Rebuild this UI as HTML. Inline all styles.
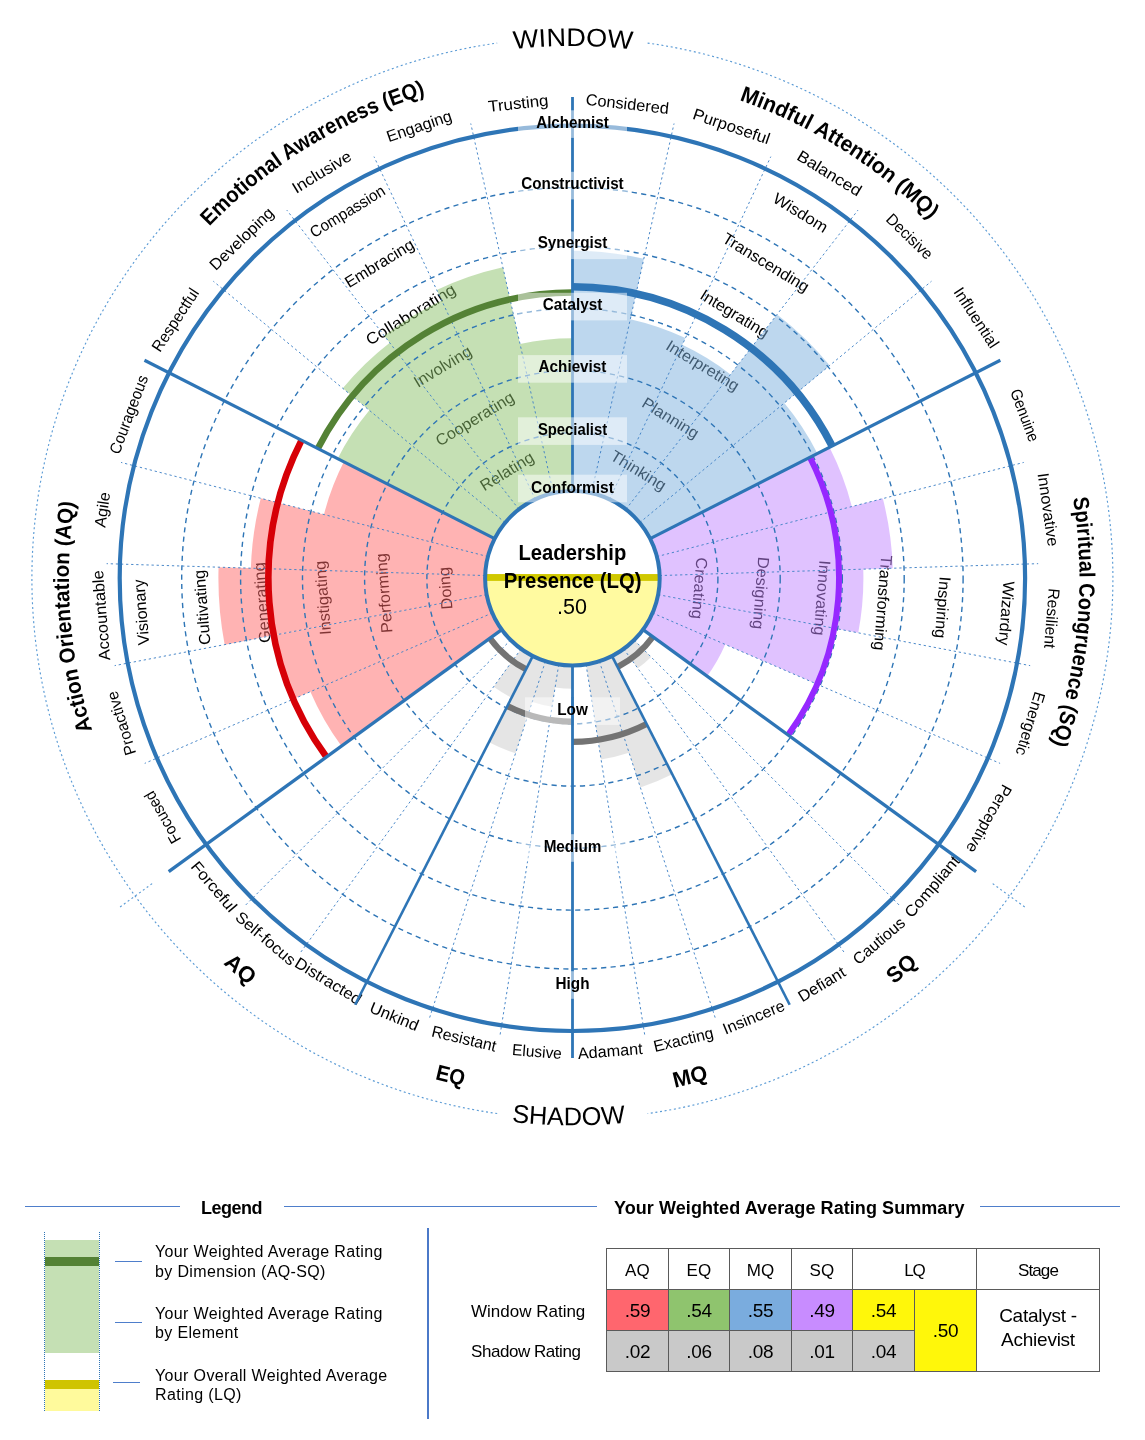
<!DOCTYPE html>
<html lang="en"><head><meta charset="utf-8"><title>Leadership Presence (LQ) Report</title>
<style>
html,body{margin:0;padding:0;background:#fff}
body{width:1145px;height:1440px;position:relative;overflow:hidden;font-family:"Liberation Sans", sans-serif;color:#000}
.abs{position:absolute;white-space:nowrap}
.hl{position:absolute;height:0;border-top:1px solid #4e7ecb}
.lt{position:absolute;left:155px;font-size:16px;line-height:19.7px;white-space:nowrap;letter-spacing:0.36px}
table{position:absolute;left:606px;top:1248px;border-collapse:collapse;font-size:19px;table-layout:fixed;width:493px}
td{border:1px solid #5a5a5a;text-align:center;padding:2px 0 0 0;box-sizing:border-box;letter-spacing:-0.25px}
tr.h td{font-size:17px;padding-top:3px;letter-spacing:0.1px}
</style></head><body>
<svg width="1145" height="1440" viewBox="0 0 1145 1440" style="position:absolute;left:0;top:0;font-family:'Liberation Sans', sans-serif">
<rect width="1145" height="1440" fill="#fff"/>
<g fill="none" stroke="#5b9bd5" stroke-width="1.15" stroke-dasharray="2 2.7">
<path d="M647.62 43.06A540.5 540.5 0 0 1 647.62 1113.54"/>
<path d="M497.18 1113.54A540.5 540.5 0 0 1 497.18 43.06"/>
<path d="M992.68 883.65L1025.45 907.46"/>
<path d="M152.12 883.65L119.35 907.46"/>
</g>
<text font-size="16" text-anchor="middle" textLength="42.64" lengthAdjust="spacingAndGlyphs" transform="translate(450.78 587.87) rotate(-94.5)">Doing</text>
<text font-size="16" text-anchor="middle" textLength="79.82" lengthAdjust="spacingAndGlyphs" transform="translate(389.47 592.7) rotate(-94.5)">Performing</text>
<text font-size="16" text-anchor="middle" textLength="74.4" lengthAdjust="spacingAndGlyphs" transform="translate(328.16 597.52) rotate(-94.5)">Instigating</text>
<text font-size="16" text-anchor="middle" textLength="80.75" lengthAdjust="spacingAndGlyphs" transform="translate(267.34 602.31) rotate(-94.5)">Generating</text>
<text font-size="16" text-anchor="middle" textLength="75.2" lengthAdjust="spacingAndGlyphs" transform="translate(207.53 607.02) rotate(-94.5)">Cultivating</text>
<text font-size="16" text-anchor="middle" textLength="66" lengthAdjust="spacingAndGlyphs" transform="translate(146.72 611.8) rotate(-94.5)">Visionary</text>
<text font-size="16" text-anchor="middle" textLength="59.88" lengthAdjust="spacingAndGlyphs" transform="translate(509.7 475.98) rotate(-31.5)">Relating</text>
<text font-size="16" text-anchor="middle" textLength="88.92" lengthAdjust="spacingAndGlyphs" transform="translate(477.57 423.55) rotate(-31.5)">Cooperating</text>
<text font-size="16" text-anchor="middle" textLength="64.41" lengthAdjust="spacingAndGlyphs" transform="translate(445.43 371.11) rotate(-31.5)">Involving</text>
<text font-size="16" text-anchor="middle" textLength="102" lengthAdjust="spacingAndGlyphs" transform="translate(413.56 319.1) rotate(-31.5)">Collaborating</text>
<text font-size="16" text-anchor="middle" textLength="78.01" lengthAdjust="spacingAndGlyphs" transform="translate(382.21 267.94) rotate(-31.5)">Embracing</text>
<text font-size="16" text-anchor="middle" textLength="85" lengthAdjust="spacingAndGlyphs" transform="translate(350.34 215.93) rotate(-31.5)">Compassion</text>
<text font-size="16" text-anchor="middle" textLength="61.69" lengthAdjust="spacingAndGlyphs" transform="translate(635.62 475.13) rotate(31.5)">Thinking</text>
<text font-size="16" text-anchor="middle" textLength="63.52" lengthAdjust="spacingAndGlyphs" transform="translate(667.76 422.69) rotate(31.5)">Planning</text>
<text font-size="16" text-anchor="middle" textLength="82.56" lengthAdjust="spacingAndGlyphs" transform="translate(699.89 370.26) rotate(31.5)">Interpreting</text>
<text font-size="16" text-anchor="middle" textLength="77.12" lengthAdjust="spacingAndGlyphs" transform="translate(731.76 318.24) rotate(31.5)">Integrating</text>
<text font-size="16" text-anchor="middle" textLength="98.28" lengthAdjust="spacingAndGlyphs" transform="translate(763.11 267.09) rotate(31.5)">Transcending</text>
<text font-size="16" text-anchor="middle" textLength="60.8" lengthAdjust="spacingAndGlyphs" transform="translate(797.71 217.33) rotate(31.5)">Wisdom</text>
<text font-size="16" text-anchor="middle" textLength="61.69" lengthAdjust="spacingAndGlyphs" transform="translate(694.02 587.87) rotate(94.5)">Creating</text>
<text font-size="16" text-anchor="middle" textLength="72.58" lengthAdjust="spacingAndGlyphs" transform="translate(755.33 592.7) rotate(94.5)">Designing</text>
<text font-size="16" text-anchor="middle" textLength="75.31" lengthAdjust="spacingAndGlyphs" transform="translate(816.64 597.52) rotate(94.5)">Innovating</text>
<text font-size="16" text-anchor="middle" textLength="95.53" lengthAdjust="spacingAndGlyphs" transform="translate(877.46 602.31) rotate(94.5)">Transforming</text>
<text font-size="16" text-anchor="middle" textLength="61.69" lengthAdjust="spacingAndGlyphs" transform="translate(937.27 607.02) rotate(94.5)">Inspiring</text>
<text font-size="16" text-anchor="middle" textLength="64.6" lengthAdjust="spacingAndGlyphs" transform="translate(1001.01 612.83) rotate(94.5)">Wizardry</text>
<text font-size="16" text-anchor="middle" textLength="57.2" lengthAdjust="spacingAndGlyphs" transform="translate(167.24 814.58) rotate(-119.7)">Focused</text>
<text font-size="16" text-anchor="middle" textLength="66.2" lengthAdjust="spacingAndGlyphs" transform="translate(126.57 721.73) rotate(-107.1)">Proactive</text>
<text font-size="16" text-anchor="middle" textLength="90.3" lengthAdjust="spacingAndGlyphs" transform="translate(106.64 614.96) rotate(-94.5)">Accountable</text>
<text font-size="16" text-anchor="middle" textLength="35.4" lengthAdjust="spacingAndGlyphs" transform="translate(107.81 510.56) rotate(-81.9)">Agile</text>
<text font-size="16" text-anchor="middle" textLength="82.8" lengthAdjust="spacingAndGlyphs" transform="translate(133.81 416.42) rotate(-69.3)">Courageous</text>
<text font-size="16" text-anchor="middle" textLength="72.1" lengthAdjust="spacingAndGlyphs" transform="translate(179.89 322.86) rotate(-56.7)">Respectful</text>
<text font-size="16" text-anchor="middle" textLength="82.2" lengthAdjust="spacingAndGlyphs" transform="translate(245.36 242.69) rotate(-44.1)">Developing</text>
<text font-size="16" text-anchor="middle" textLength="66.4" lengthAdjust="spacingAndGlyphs" transform="translate(324.5 176.64) rotate(-31.5)">Inclusive</text>
<text font-size="16" text-anchor="middle" textLength="67.8" lengthAdjust="spacingAndGlyphs" transform="translate(420.84 131.29) rotate(-18.9)">Engaging</text>
<text font-size="16" text-anchor="middle" textLength="60.6" lengthAdjust="spacingAndGlyphs" transform="translate(518.85 108.74) rotate(-6.3)">Trusting</text>
<text font-size="16" text-anchor="middle" textLength="83.6" lengthAdjust="spacingAndGlyphs" transform="translate(626.69 109.33) rotate(6.3)">Considered</text>
<text font-size="16" text-anchor="middle" textLength="80.3" lengthAdjust="spacingAndGlyphs" transform="translate(729.81 131.5) rotate(18.9)">Purposeful</text>
<text font-size="16" text-anchor="middle" textLength="72.2" lengthAdjust="spacingAndGlyphs" transform="translate(826.56 177.9) rotate(31.5)">Balanced</text>
<text font-size="16" text-anchor="middle" textLength="57.8" lengthAdjust="spacingAndGlyphs" transform="translate(905.84 240.4) rotate(44.1)">Decisive</text>
<text font-size="16" text-anchor="middle" textLength="68.9" lengthAdjust="spacingAndGlyphs" transform="translate(971.8 320.61) rotate(56.7)">Influential</text>
<text font-size="16" text-anchor="middle" textLength="55.1" lengthAdjust="spacingAndGlyphs" transform="translate(1019.73 417.18) rotate(69.3)">Genuine</text>
<text font-size="16" text-anchor="middle" textLength="74.2" lengthAdjust="spacingAndGlyphs" transform="translate(1042.72 510.35) rotate(81.9)">Innovative</text>
<text font-size="16" text-anchor="middle" textLength="60.2" lengthAdjust="spacingAndGlyphs" transform="translate(1046.45 617.92) rotate(94.5)">Resilient</text>
<text font-size="16" text-anchor="middle" textLength="65.7" lengthAdjust="spacingAndGlyphs" transform="translate(1025.23 722.11) rotate(107.1)">Energetic</text>
<text font-size="16" text-anchor="middle" textLength="75.6" lengthAdjust="spacingAndGlyphs" transform="translate(984.37 816.16) rotate(119.7)">Perceptive</text>
<text font-size="16" text-anchor="middle" textLength="75.4" lengthAdjust="spacingAndGlyphs" transform="translate(936.2 890.2) rotate(310.5)">Compliant</text>
<text font-size="16" text-anchor="middle" textLength="63.1" lengthAdjust="spacingAndGlyphs" transform="translate(882.38 944.93) rotate(319.5)">Cautious</text>
<text font-size="16" text-anchor="middle" textLength="52.4" lengthAdjust="spacingAndGlyphs" transform="translate(824.48 988.89) rotate(328.5)">Defiant</text>
<text font-size="16" text-anchor="middle" textLength="65.3" lengthAdjust="spacingAndGlyphs" transform="translate(755.74 1022.23) rotate(337.5)">Insincere</text>
<text font-size="16" text-anchor="middle" textLength="61.1" lengthAdjust="spacingAndGlyphs" transform="translate(684.72 1044.87) rotate(346.5)">Exacting</text>
<text font-size="16" text-anchor="middle" textLength="64.9" lengthAdjust="spacingAndGlyphs" transform="translate(610.54 1056.48) rotate(355.5)">Adamant</text>
<text font-size="16" text-anchor="middle" textLength="49.7" lengthAdjust="spacingAndGlyphs" transform="translate(536.63 1057.07) rotate(364.5)">Elusive</text>
<text font-size="16" text-anchor="middle" textLength="66" lengthAdjust="spacingAndGlyphs" transform="translate(462.76 1043.97) rotate(373.5)">Resistant</text>
<text font-size="16" text-anchor="middle" textLength="51.5" lengthAdjust="spacingAndGlyphs" transform="translate(392.28 1021.51) rotate(382.5)">Unkind</text>
<text font-size="16" text-anchor="middle" textLength="75.1" lengthAdjust="spacingAndGlyphs" transform="translate(325.5 985.61) rotate(391.5)">Distracted</text>
<text font-size="16" text-anchor="middle" textLength="73.5" lengthAdjust="spacingAndGlyphs" transform="translate(262.1 942.54) rotate(400.5)">Self-focus</text>
<text font-size="16" text-anchor="middle" textLength="61.1" lengthAdjust="spacingAndGlyphs" transform="translate(209.8 890.22) rotate(409.5)">Forceful</text>
<path id="pa" d="M133.85 825.66A503.5 503.5 0 0 1 101.02 401.35" fill="none"/>
<text font-size="22" font-weight="bold" text-anchor="middle" textLength="230.68" lengthAdjust="spacingAndGlyphs"><textPath href="#pa" startOffset="50%">Action Orientation (AQ)</textPath></text>
<path id="pe" d="M151.36 298.56A505.5 505.5 0 0 1 516.05 75.95" fill="none"/>
<text font-size="22" font-weight="bold" text-anchor="middle" textLength="255.86" lengthAdjust="spacingAndGlyphs"><textPath href="#pe" startOffset="50%">Emotional Awareness (EQ)</textPath></text>
<path id="pm" d="M634.92 75.67A506.5 506.5 0 0 1 997.62 303.11" fill="none"/>
<text font-size="22" font-weight="bold" text-anchor="middle" textLength="227.19" lengthAdjust="spacingAndGlyphs"><textPath href="#pm" startOffset="50%">Mindful Attention (MQ)</textPath></text>
<path id="pq" d="M1048.78 404.77A507 507 0 0 1 1011.54 831.69" fill="none"/>
<text font-size="22" font-weight="bold" text-anchor="middle" textLength="249.27" lengthAdjust="spacingAndGlyphs"><textPath href="#pq" startOffset="50%">Spiritual Congruence (SQ)</textPath></text>
<text font-size="22" text-anchor="middle" font-weight="bold" textLength="31.7" lengthAdjust="spacingAndGlyphs" transform="translate(906.11 974.11) rotate(319.5)">SQ</text>
<text font-size="22" text-anchor="middle" font-weight="bold" textLength="35" lengthAdjust="spacingAndGlyphs" transform="translate(691.68 1083.72) rotate(346.5)">MQ</text>
<text font-size="22" text-anchor="middle" font-weight="bold" textLength="29.2" lengthAdjust="spacingAndGlyphs" transform="translate(448.86 1082.59) rotate(373.5)">EQ</text>
<text font-size="22" text-anchor="middle" font-weight="bold" textLength="33.5" lengthAdjust="spacingAndGlyphs" transform="translate(235.75 974.62) rotate(400.5)">AQ</text>
<path id="pw" d="M390.34 78.1A532.3 532.3 0 0 1 754.46 78.1" fill="none"/>
<path id="ps" d="M385.31 1092.31A547 547 0 0 0 759.49 1092.31" fill="none"/>
<text font-size="25.5" text-anchor="middle" textLength="118.8" lengthAdjust="spacingAndGlyphs"><textPath href="#pw" startOffset="50.15%">WINDOW</textPath></text>
<text font-size="25.5" text-anchor="middle" textLength="114" lengthAdjust="spacingAndGlyphs"><textPath href="#ps" startOffset="49%">SHADOW</textPath></text>
<path d="M501.77 629.61L341.43 746.11A285.5 285.5 0 0 1 310.38 691.69L492.28 612.97A87.3 87.3 0 0 0 501.77 629.61ZM492.28 612.97L295.24 698.24A302 302 0 0 1 275.75 634.89L486.65 594.66A87.3 87.3 0 0 0 492.28 612.97ZM486.65 594.66L224.67 644.63A354 354 0 0 1 218.57 567.18L485.14 575.56A87.3 87.3 0 0 0 486.65 594.66ZM485.14 575.56L250.86 568.2A321.7 321.7 0 0 1 260.81 498.3L487.84 556.59A87.3 87.3 0 0 0 485.14 575.56ZM487.84 556.59L323.96 514.51A256.5 256.5 0 0 1 343.86 461.85L494.62 538.67A87.3 87.3 0 0 0 487.84 556.59Z" fill="#ff6767" fill-opacity="0.5"/>
<path d="M494.62 538.67L337.62 458.67A263.5 263.5 0 0 1 369.37 410.34L505.13 522.65A87.3 87.3 0 0 0 494.62 538.67ZM505.13 522.65L342.79 388.35A298 298 0 0 1 389.75 342.83L518.89 509.32A87.3 87.3 0 0 0 505.13 522.65ZM518.89 509.32L384.24 335.72A307 307 0 0 1 441.69 300.52L535.23 499.31A87.3 87.3 0 0 0 518.89 509.32ZM535.23 499.31L436.7 289.93A318.7 318.7 0 0 1 502.88 267.28L553.36 493.1A87.3 87.3 0 0 0 535.23 499.31ZM553.36 493.1L520.05 344.08A240 240 0 0 1 572.4 338.3L572.4 491A87.3 87.3 0 0 0 553.36 493.1Z" fill="#8bc169" fill-opacity="0.5"/>
<path d="M572.4 491L572.4 250.8A327.5 327.5 0 0 1 643.84 258.69L591.44 493.1A87.3 87.3 0 0 0 572.4 491ZM591.44 493.1L630.32 319.19A265.5 265.5 0 0 1 685.44 338.07L609.57 499.31A87.3 87.3 0 0 0 591.44 493.1ZM609.57 499.31L682.25 344.85A258 258 0 0 1 730.53 374.44L625.91 509.32A87.3 87.3 0 0 0 609.57 499.31ZM625.91 509.32L777.11 314.39A334 334 0 0 1 829.75 365.4L639.67 522.65A87.3 87.3 0 0 0 625.91 509.32ZM639.67 522.65L784.29 403.01A275 275 0 0 1 817.43 453.45L650.18 538.67A87.3 87.3 0 0 0 639.67 522.65Z" fill="#7bafdd" fill-opacity="0.5"/>
<path d="M650.18 538.67L829.46 447.32A288.5 288.5 0 0 1 851.84 506.55L656.96 556.59A87.3 87.3 0 0 0 650.18 538.67ZM656.96 556.59L882.83 498.59A320.5 320.5 0 0 1 892.74 568.23L659.66 575.56A87.3 87.3 0 0 0 656.96 556.59ZM659.66 575.56L863.26 569.16A291 291 0 0 1 858.25 632.83L658.15 594.66A87.3 87.3 0 0 0 659.66 575.56ZM658.15 594.66L832.71 627.96A265 265 0 0 1 815.6 683.54L652.52 612.97A87.3 87.3 0 0 0 658.15 594.66ZM652.52 612.97L725.21 644.43A166.5 166.5 0 0 1 707.1 676.17L643.03 629.61A87.3 87.3 0 0 0 652.52 612.97Z" fill="#c185ff" fill-opacity="0.5"/>
<path d="M634.13 640.03L651.1 657A111.3 111.3 0 0 1 637.82 668.34L623.71 648.93A87.3 87.3 0 0 0 634.13 640.03ZM623.71 648.93L631.18 659.2A100 100 0 0 1 617.8 667.4L612.03 656.08A87.3 87.3 0 0 0 623.71 648.93Z" fill="#000" fill-opacity="0.1"/>
<path d="M612.03 656.08L672.28 774.32A220 220 0 0 1 640.38 787.53L599.38 661.33A87.3 87.3 0 0 0 612.03 656.08ZM599.38 661.33L629.1 752.82A183.5 183.5 0 0 1 601.11 759.54L586.06 664.53A87.3 87.3 0 0 0 599.38 661.33Z" fill="#000" fill-opacity="0.1"/>
<path d="M572.4 665.6L572.4 688.8A110.5 110.5 0 0 1 555.11 687.44L558.74 664.53A87.3 87.3 0 0 0 572.4 665.6ZM558.74 664.53L552.06 706.7A130 130 0 0 1 532.23 701.94L545.42 661.33A87.3 87.3 0 0 0 558.74 664.53ZM545.42 661.33L515.54 753.29A184 184 0 0 1 488.87 742.25L532.77 656.08A87.3 87.3 0 0 0 545.42 661.33Z" fill="#000" fill-opacity="0.1"/>
<path d="M532.77 656.08L511.57 697.69A134 134 0 0 1 493.64 686.71L521.09 648.93A87.3 87.3 0 0 0 532.77 656.08Z" fill="#000" fill-opacity="0.1"/>
<g fill="none" stroke="#2e75b6" stroke-width="1.4" stroke-dasharray="5.2 4.3">
<circle cx="572.4" cy="578.3" r="145.5"/>
<circle cx="572.4" cy="578.3" r="207.8"/>
<circle cx="572.4" cy="578.3" r="269.9"/>
<circle cx="572.4" cy="578.3" r="331.8"/>
<circle cx="572.4" cy="578.3" r="390.7"/>
</g>
<g fill="none" stroke="#4283c6" stroke-width="0.95" stroke-dasharray="2.3 2.8">
<path d="M492.28 612.97L144.73 763.37M486.65 594.66L114.65 665.62M485.14 575.56L106.63 563.66M487.84 556.59L121.04 462.41M505.13 522.65L213.34 281.26M518.89 509.32L286.79 210.09M535.23 499.31L373.99 156.65M553.36 493.1L470.75 123.52M591.44 493.1L674.05 123.52M609.57 499.31L770.81 156.65M625.91 509.32L858.01 210.09M639.67 522.65L931.46 281.26M656.96 556.59L1023.76 462.41M659.66 575.56L1038.17 563.66M658.15 594.66L1030.15 665.62M652.52 612.97L1000.07 763.37M634.13 640.03L900.85 906.75M623.71 648.93L845.43 954.09M599.38 661.33L715.94 1020.07M586.06 664.53L645.06 1037.08M558.74 664.53L499.74 1037.08M545.42 661.33L428.86 1020.07M521.09 648.93L299.37 954.09M510.67 640.03L243.95 906.75"/>
</g>
<path d="M326.46 756.99A304 304 0 0 1 301.53 440.29" fill="none" stroke="#d60007" stroke-width="6.6"/>
<path d="M317.84 448.59A285.7 285.7 0 0 1 572.4 292.6" fill="none" stroke="#548235" stroke-width="6.5"/>
<path d="M572.4 286.8A291.5 291.5 0 0 1 832.13 445.96" fill="none" stroke="#2e75b6" stroke-width="7.5"/>
<path d="M809.94 457.27A266.6 266.6 0 0 1 788.08 735" fill="none" stroke="#9628ff" stroke-width="6"/>
<path d="M652.9 636.78A99.5 99.5 0 0 1 617.57 666.96" fill="none" stroke="#737373" stroke-width="6.2"/>
<path d="M646.63 723.98A163.5 163.5 0 0 1 572.4 741.8" fill="none" stroke="#737373" stroke-width="6.2"/>
<path d="M572.4 721.6A143.3 143.3 0 0 1 507.34 705.98" fill="none" stroke="#737373" stroke-width="6.2"/>
<path d="M526.09 669.18A102 102 0 0 1 489.88 638.25" fill="none" stroke="#737373" stroke-width="6.2"/>
<circle cx="572.4" cy="578.3" r="452.7" fill="none" stroke="#2e75b6" stroke-width="4.2"/>
<g fill="none" stroke="#2e75b6">
<path d="M501.77 629.61L168.7 871.6" stroke-width="3.3"/>
<path d="M494.62 538.67L144.45 360.25" stroke-width="3.1"/>
<path d="M650.18 538.67L1000.35 360.25" stroke-width="3.1"/>
<path d="M643.03 629.61L976.1 871.6" stroke-width="3.3"/>
<path d="M612.03 656.08L789.68 1004.74" stroke-width="2.6"/>
<path d="M532.77 656.08L355.12 1004.74" stroke-width="2.6"/>
<path d="M572.5 97V491 M572.5 665.6V1058" stroke-width="2.8"/>
</g>
<circle cx="572.4" cy="578.3" r="87.3" fill="#fff"/>
<path d="M485.1 578A87.3 87.3 0 0 0 659.7 578Z" fill="#fffaa0"/>
<rect x="485.4" y="574.05" width="174" height="6.85" fill="#d0c800"/>
<circle cx="572.4" cy="578.3" r="87.3" fill="none" stroke="#2e75b6" stroke-width="4"/>
<text x="572.4" y="559.6" font-size="22" font-weight="bold" text-anchor="middle" textLength="107.8" lengthAdjust="spacingAndGlyphs">Leadership</text>
<text x="572.6" y="588.4" font-size="22" font-weight="bold" text-anchor="middle" textLength="137.9" lengthAdjust="spacingAndGlyphs">Presence (LQ)</text>
<text x="572" y="614.3" font-size="22" text-anchor="middle" textLength="29.9" lengthAdjust="spacingAndGlyphs">.50</text>
<rect x="518" y="110.3" width="109" height="27.6" fill="#fff" fill-opacity="0.5"/>
<text x="572.5" y="127.6" font-size="16" font-weight="bold" text-anchor="middle" textLength="72.7" lengthAdjust="spacingAndGlyphs">Alchemist</text>
<rect x="518" y="171.8" width="109" height="27.6" fill="#fff" fill-opacity="0.5"/>
<text x="572.5" y="189.2" font-size="16" font-weight="bold" text-anchor="middle" textLength="102.4" lengthAdjust="spacingAndGlyphs">Constructivist</text>
<rect x="518" y="231.5" width="109" height="27.6" fill="#fff" fill-opacity="0.5"/>
<text x="572.5" y="247.5" font-size="16" font-weight="bold" text-anchor="middle" textLength="69.64" lengthAdjust="spacingAndGlyphs">Synergist</text>
<rect x="518" y="292.8" width="109" height="27.6" fill="#fff" fill-opacity="0.5"/>
<text x="572.5" y="309.7" font-size="16" font-weight="bold" text-anchor="middle" textLength="59.45" lengthAdjust="spacingAndGlyphs">Catalyst</text>
<rect x="518" y="355.1" width="109" height="27.6" fill="#fff" fill-opacity="0.5"/>
<text x="572.5" y="372.4" font-size="16" font-weight="bold" text-anchor="middle" textLength="67.8" lengthAdjust="spacingAndGlyphs">Achievist</text>
<rect x="518" y="417.3" width="109" height="27.6" fill="#fff" fill-opacity="0.5"/>
<text x="572.5" y="434.8" font-size="16" font-weight="bold" text-anchor="middle" textLength="69.2" lengthAdjust="spacingAndGlyphs">Specialist</text>
<rect x="518" y="474.7" width="109" height="27.6" fill="#fff" fill-opacity="0.5"/>
<text x="572.5" y="492.8" font-size="16" font-weight="bold" text-anchor="middle" textLength="82.8" lengthAdjust="spacingAndGlyphs">Conformist</text>
<rect x="525" y="697.3" width="95" height="27.6" fill="#fff" fill-opacity="0.5"/>
<rect x="518" y="834.2" width="109" height="27.6" fill="#fff" fill-opacity="0.5"/>
<text x="572.5" y="851.7" font-size="16" font-weight="bold" text-anchor="middle" textLength="57.73" lengthAdjust="spacingAndGlyphs">Medium</text>
<rect x="518" y="971.2" width="109" height="27.6" fill="#fff" fill-opacity="0.5"/>
<text x="572.5" y="988.6" font-size="16" font-weight="bold" text-anchor="middle" textLength="33.95" lengthAdjust="spacingAndGlyphs">High</text>
<path d="M572.5 697V725.2" stroke="#2e75b6" stroke-width="2.8"/>
<text x="572.5" y="714.7" font-size="16" font-weight="bold" text-anchor="middle" textLength="30.55" lengthAdjust="spacingAndGlyphs">Low</text>
</svg>
<div class="hl" style="left:25px;top:1205.8px;width:155px"></div>
<div class="abs" id="lg-title" style="left:201px;top:1197.2px;font-size:18px;font-weight:bold;line-height:22px;letter-spacing:-0.5px">Legend</div>
<div class="hl" style="left:283.5px;top:1205.8px;width:313.5px"></div>
<div class="abs" id="sum-title" style="left:614px;top:1197.2px;font-size:18px;font-weight:bold;line-height:22px;letter-spacing:0.07px">Your Weighted Average Rating Summary</div>
<div class="hl" style="left:980px;top:1205.8px;width:140px"></div>
<div class="abs" style="left:427px;top:1227.5px;width:0;height:191.5px;border-left:2px solid #4b79c8"></div>

<div class="abs" style="left:44px;top:1232px;width:54px;height:179px;border-left:1px dotted #2e75b6;border-right:1px dotted #2e75b6"></div>
<div class="abs" style="left:45px;top:1240px;width:54px;height:113px;background:#c5e0b4"></div>
<div class="abs" style="left:45px;top:1256.5px;width:54px;height:9px;background:#548235"></div>
<div class="abs" style="left:45px;top:1380px;width:54px;height:31px;background:#fffa9c"></div>
<div class="abs" style="left:45px;top:1380px;width:54px;height:8.5px;background:#cfc400"></div>
<div class="hl" style="left:115px;top:1260.5px;width:27px"></div>
<div class="hl" style="left:115px;top:1321.5px;width:27px"></div>
<div class="hl" style="left:113px;top:1382px;width:27px"></div>
<div class="lt" style="top:1242.4px">Your Weighted Average Rating<br>by Dimension (AQ-SQ)</div>
<div class="lt" style="top:1303.6px">Your Weighted Average Rating<br>by Element</div>
<div class="lt" style="top:1365.6px">Your Overall Weighted Average<br>Rating (LQ)</div>

<div class="abs" style="left:471px;top:1301.8px;font-size:17px;line-height:20px">Window Rating</div>
<div class="abs" style="left:471px;top:1341.5px;font-size:17px;line-height:20px;letter-spacing:-0.45px">Shadow Rating</div>
<table>
<colgroup><col style="width:62px"><col style="width:61px"><col style="width:62px"><col style="width:61px"><col style="width:62px"><col style="width:62px"><col style="width:123px"></colgroup>
<tr class="h" style="height:41px"><td>AQ</td><td>EQ</td><td>MQ</td><td>SQ</td><td colspan="2" style="letter-spacing:-1px">LQ</td><td style="letter-spacing:-0.9px">Stage</td></tr>
<tr class="d" style="height:41px"><td style="background:#ff666e">.59</td><td style="background:#8fc46e">.54</td><td style="background:#7aacde">.55</td><td style="background:#c88cff">.49</td><td style="background:#fff70a">.54</td><td rowspan="2" style="background:#fff70a">.50</td><td rowspan="2" style="line-height:23.6px;padding:0 0 5px 0">Catalyst -<br>Achievist</td></tr>
<tr class="d" style="height:40.5px"><td style="background:#c9c9c9">.02</td><td style="background:#c9c9c9">.06</td><td style="background:#c9c9c9">.08</td><td style="background:#c9c9c9">.01</td><td style="background:#c9c9c9">.04</td></tr>
</table>

</body></html>
